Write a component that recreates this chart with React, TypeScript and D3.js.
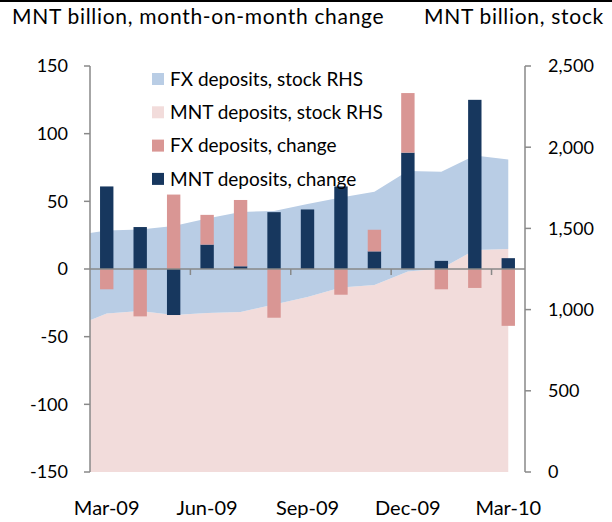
import React, { useEffect, useRef } from 'react';
import * as d3 from 'd3';

const months = ['Mar-09', 'Apr-09', 'May-09', 'Jun-09', 'Jul-09', 'Aug-09', 'Sep-09', 'Oct-09', 'Nov-09', 'Dec-09', 'Jan-10', 'Feb-10', 'Mar-10'];
const mntChange = [61, 31, -34, 18, 2, 42, 44, 61, 13, 86, 6, 125, 8];
const fxChange = [-15, -35, 55, 22, 49, -36, 0, -19, 16, 44, -15, -14, -42];

// stocks start one month earlier, that point only shows as the slope at the left edge
const stockMonths = ['Feb-09', ...months];
const mntStock = [893, 976, 991, 967, 979, 985, 1031, 1078, 1136, 1151, 1235, 1253, 1367, 1373];
const fxStock = [563, 511, 502, 548, 582, 616, 576, 572, 554, 575, 618, 596, 582, 552];

const leftTicks = [-150, -100, -50, 0, 50, 100, 150];
const rightTicks = [0, 500, 1000, 1500, 2000, 2500];
const xLabels = ['Mar-09', 'Jun-09', 'Sep-09', 'Dec-09', 'Mar-10'];

const legendItems = [
  { label: 'FX deposits, stock RHS', color: '#b9cde5' },
  { label: 'MNT deposits, stock RHS', color: '#f2dcdb' },
  { label: 'FX deposits, change', color: '#d99694' },
  { label: 'MNT deposits, change', color: '#17375e' },
];

const App = () => {
  const ref = useRef(null);

  useEffect(() => {
    const width = 612;
    const height = 522;
    const left = 90;
    const right = 525;
    const top = 66;
    const bottom = 472;
    const font = 'Lato, sans-serif';
    const axisColor = '#898989';

    const svg = d3.select(ref.current)
      .attr('width', width)
      .attr('height', height)
      .style('position', 'absolute')
      .style('left', 0)
      .style('top', 0)
      .style('font-family', font);
    svg.selectAll('*').remove();

    const x = d3.scaleBand().domain(months).range([left, right]).paddingInner(0.6).paddingOuter(0.3);
    const y = d3.scaleLinear().domain([-150, 150]).range([bottom, top]);
    const yR = d3.scaleLinear().domain([0, 2500]).range([bottom, top]);
    const step = x.step();
    const c0 = x(months[0]) + x.bandwidth() / 2;
    const xi = d3.scaleLinear().domain([1, stockMonths.length - 1]).range([c0, c0 + step * (months.length - 1)]);

    svg.append('rect').attr('x', 0).attr('y', 0).attr('width', width).attr('height', 2).attr('fill', '#000');

    svg.append('clipPath').attr('id', 'plot-clip')
      .append('rect').attr('x', left).attr('y', top).attr('width', right - left).attr('height', bottom - top);

    // stock areas
    const stockTable = stockMonths.map((m, i) => ({ month: m, mnt: mntStock[i], fx: fxStock[i] }));
    const stockSeries = d3.stack().keys(['mnt', 'fx'])(stockTable);
    const area = d3.area()
      .x((d, i) => xi(i))
      .y0(d => yR(d[0]))
      .y1(d => yR(d[1]));
    const areaColor = { mnt: '#f2dcdb', fx: '#b9cde5' };
    svg.append('g').attr('clip-path', 'url(#plot-clip)')
      .selectAll('path')
      .data(stockSeries)
      .join('path')
      .attr('fill', d => areaColor[d.key])
      .attr('d', area);

    // change bars
    const changeTable = months.map((m, i) => ({ month: m, mnt: mntChange[i], fx: fxChange[i] }));
    const barSeries = d3.stack().keys(['mnt', 'fx']).offset(d3.stackOffsetDiverging)(changeTable);
    const barColor = { mnt: '#17375e', fx: '#d99694' };
    svg.append('g')
      .selectAll('g')
      .data(barSeries)
      .join('g')
      .attr('fill', d => barColor[d.key])
      .selectAll('rect')
      .data(d => d)
      .join('rect')
      .attr('x', d => x(d.data.month))
      .attr('width', x.bandwidth())
      .attr('y', d => y(Math.max(d[0], d[1])))
      .attr('height', d => Math.abs(y(d[0]) - y(d[1])));

    // axes
    const axes = svg.append('g').attr('stroke', axisColor).attr('stroke-width', 1.5);
    axes.append('line').attr('x1', left).attr('x2', left).attr('y1', top).attr('y2', bottom);
    axes.append('line').attr('x1', right).attr('x2', right).attr('y1', top).attr('y2', bottom);
    axes.append('line').attr('x1', left).attr('x2', right).attr('y1', y(0)).attr('y2', y(0));
    axes.selectAll('.lt').data(leftTicks).join('line').attr('class', 'lt')
      .attr('x1', left - 6).attr('x2', left).attr('y1', d => y(d)).attr('y2', d => y(d));
    axes.selectAll('.rt').data(rightTicks).join('line').attr('class', 'rt')
      .attr('x1', right).attr('x2', right + 6).attr('y1', d => yR(d)).attr('y2', d => yR(d));
    const xTickMonths = months.filter((m, i) => i % 3 === 0 && i > 0);
    axes.selectAll('.xt').data(xTickMonths).join('line').attr('class', 'xt')
      .attr('x1', d => x(d) - step * 0.3).attr('x2', d => x(d) - step * 0.3)
      .attr('y1', y(0)).attr('y2', y(0) + 6);

    const fmt = d3.format(',');
    svg.append('g').selectAll('text').data(leftTicks).join('text')
      .attr('x', left - 22).attr('y', d => y(d)).attr('dy', '0.35em')
      .attr('text-anchor', 'end').attr('font-size', 18)
      .text(d => d);
    svg.append('g').selectAll('text').data(rightTicks).join('text')
      .attr('x', right + 23).attr('y', d => yR(d)).attr('dy', '0.35em')
      .attr('font-size', 18)
      .text(d => fmt(d));
    svg.append('g').selectAll('text').data(xLabels).join('text')
      .attr('x', d => x(d) + x.bandwidth() / 2).attr('y', 515)
      .attr('text-anchor', 'middle').attr('font-size', 20)
      .text(d => d);

    // legend
    const legend = svg.append('g').selectAll('g').data(legendItems).join('g')
      .attr('transform', (d, i) => `translate(152,${79 + i * 33.3})`);
    legend.append('rect').attr('x', 0).attr('y', -6).attr('width', 12).attr('height', 12).attr('fill', d => d.color);
    legend.append('text').attr('x', 18).attr('dy', '0.35em').attr('font-size', 19).text(d => d.label);

    svg.append('text').attr('x', 12).attr('y', 23.5).attr('font-size', 21).attr('letter-spacing', 0.7)
      .text('MNT billion, month-on-month change');
    svg.append('text').attr('x', 604).attr('y', 23.5).attr('text-anchor', 'end').attr('font-size', 21).attr('letter-spacing', 0.7)
      .text('MNT billion, stock');
  }, []);

  return <svg ref={ref} />;
};

export default App;
